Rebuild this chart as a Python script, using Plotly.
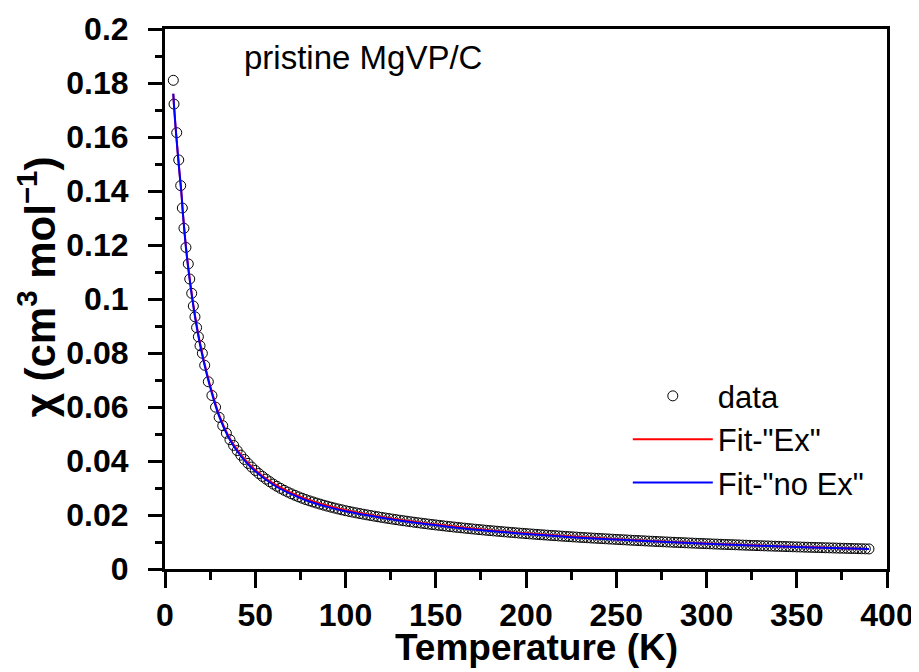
import plotly.graph_objects as go

# ---- data ----
temp_data = [4.6, 5.0, 6.5, 7.6, 8.7, 9.6, 10.5, 11.6, 12.9, 13.7, 14.8, 15.7, 16.6, 17.5, 18.5, 19.4, 20.7,
             22, 24, 26, 28, 30, 32, 34, 36, 38, 40, 42, 44, 46, 48, 50, 52, 54, 56, 58, 60,
             62, 64, 66, 68, 70, 72, 74, 76, 78, 80, 82, 84, 86, 88, 90, 92, 94, 96, 98, 100,
             102, 104, 106, 108, 110, 112, 114, 116, 118, 120, 122, 124, 126, 128, 130, 132, 134, 136, 138, 140,
             142, 144, 146, 148, 150, 152, 154, 156, 158, 160, 162, 164, 166, 168, 170, 172, 174, 176, 178, 180,
             182, 184, 186, 188, 190, 192, 194, 196, 198, 200, 202, 204, 206, 208, 210, 212, 214, 216, 218, 220,
             222, 224, 226, 228, 230, 232, 234, 236, 238, 240, 242, 244, 246, 248, 250, 252, 254, 256, 258, 260,
             262, 264, 266, 268, 270, 272, 274, 276, 278, 280, 282, 284, 286, 288, 290, 292, 294, 296, 298, 300,
             302, 304, 306, 308, 310, 312, 314, 316, 318, 320, 322, 324, 326, 328, 330, 332, 334, 336, 338, 340,
             342, 344, 346, 348, 350, 352, 354, 356, 358, 360, 362, 364, 366, 368, 370, 372, 374, 376, 378, 380,
             382, 384, 386, 388, 390]
chi_data = [0.1810, 0.1722, 0.1616, 0.1515, 0.1420, 0.1337, 0.1262, 0.1191, 0.1130, 0.1074, 0.1021, 0.0974,
            0.0934, 0.0894, 0.0860, 0.0827, 0.0799,
            0.07544, 0.06936, 0.06427, 0.05995, 0.05618, 0.05308, 0.05030, 0.04789, 0.04579, 0.04386,
            0.04216, 0.04058, 0.03912, 0.03776, 0.03650, 0.03536, 0.03429, 0.03329, 0.03234, 0.03145,
            0.03064, 0.02987, 0.02915, 0.02849, 0.02786, 0.02728, 0.02672, 0.02621, 0.02572, 0.02525,
            0.02483, 0.02441, 0.02402, 0.02363, 0.02326, 0.02290, 0.02256, 0.02223, 0.02191, 0.02160,
            0.02132, 0.02105, 0.02079, 0.02053, 0.02028, 0.02004, 0.01980, 0.01957, 0.01934, 0.01912,
            0.01890, 0.01869, 0.01848, 0.01828, 0.01808, 0.01789, 0.01770, 0.01751, 0.01733, 0.01715,
            0.01698, 0.01681, 0.01664, 0.01647, 0.01631, 0.01616, 0.01600, 0.01585, 0.01570, 0.01555,
            0.01541, 0.01527, 0.01513, 0.01500, 0.01486, 0.01473, 0.01460, 0.01448, 0.01435, 0.01423,
            0.01411, 0.01399, 0.01388, 0.01376, 0.01365, 0.01354, 0.01343, 0.01332, 0.01322, 0.01311,
            0.01301, 0.01291, 0.01281, 0.01272, 0.01262, 0.01253, 0.01243, 0.01234, 0.01225, 0.01216,
            0.01207, 0.01199, 0.01190, 0.01182, 0.01173, 0.01165, 0.01157, 0.01149, 0.01141, 0.01134,
            0.01126, 0.01119, 0.01111, 0.01104, 0.01096, 0.01089, 0.01082, 0.01075, 0.01067, 0.01060,
            0.01054, 0.01047, 0.01040, 0.01033, 0.01027, 0.01020, 0.01014, 0.01007, 0.01001, 0.00995,
            0.00989, 0.00983, 0.00977, 0.00971, 0.00965, 0.00960, 0.00954, 0.00948, 0.00943, 0.00937,
            0.00932, 0.00926, 0.00921, 0.00916, 0.00911, 0.00906, 0.00901, 0.00896, 0.00891, 0.00886,
            0.00881, 0.00876, 0.00871, 0.00867, 0.00862, 0.00857, 0.00853, 0.00848, 0.00844, 0.00840,
            0.00835, 0.00831, 0.00827, 0.00822, 0.00818, 0.00814, 0.00810, 0.00806, 0.00802, 0.00798,
            0.00794, 0.00790, 0.00786, 0.00783, 0.00779, 0.00775, 0.00771, 0.00768, 0.00764, 0.00760,
            0.00757, 0.00753, 0.00750, 0.00746, 0.00743]

temp_fit = [4.6, 5, 6, 7, 8, 9, 10, 12, 14, 16, 18, 20, 23, 26, 30, 35, 40, 45, 50, 60, 70, 80, 90, 100,
            120, 140, 160, 180, 200, 225, 250, 275, 300, 325, 350, 375, 390]
chi_fit_ex = [0.1760, 0.1715, 0.1625, 0.1545, 0.1470, 0.1400, 0.1312, 0.1168, 0.1060, 0.0966, 0.0886,
              0.0818, 0.0731, 0.0656, 0.0571, 0.0495, 0.0441, 0.0400, 0.0367, 0.0317, 0.0282, 0.0255,
              0.0234, 0.0218, 0.0193, 0.0173, 0.0157, 0.0143, 0.0132, 0.0120, 0.0110, 0.0102, 0.00945,
              0.00878, 0.00820, 0.00768, 0.00742]
chi_fit_noex = [0.1760, 0.1715, 0.1625, 0.1545, 0.1470, 0.1400, 0.1310, 0.1165, 0.1055, 0.0960, 0.0880,
                0.0812, 0.0725, 0.0650, 0.0565, 0.0490, 0.0436, 0.0395, 0.0362, 0.0312, 0.0277, 0.0250,
                0.0230, 0.0214, 0.0190, 0.0170, 0.0154, 0.0141, 0.0130, 0.0118, 0.0109, 0.0101, 0.00935,
                0.00870, 0.00815, 0.00765, 0.00740]

x_ticks = [0, 50, 100, 150, 200, 250, 300, 350, 400]
y_ticks = [0, 0.02, 0.04, 0.06, 0.08, 0.1, 0.12, 0.14, 0.16, 0.18, 0.2]
y_ticktext = ["0", "0.02", "0.04", "0.06", "0.08", "0.1", "0.12", "0.14", "0.16", "0.18", "0.2"]

FONT = "Liberation Sans, Arial, sans-serif"

fig = go.Figure()
fig.add_trace(go.Scatter(
    x=temp_data, y=chi_data, mode="markers", name="data",
    marker=dict(symbol="circle-open", size=10, color="black", line=dict(width=1, color="black")),
))
fig.add_trace(go.Scatter(
    x=temp_fit, y=chi_fit_ex, mode="lines", name='Fit-"Ex"',
    line=dict(color="#ff0000", width=2, shape="spline"),
))
fig.add_trace(go.Scatter(
    x=temp_fit, y=chi_fit_noex, mode="lines", name='Fit-"no Ex"',
    line=dict(color="#0000ff", width=2, shape="spline"),
))

axis_common = dict(
    showline=True, linewidth=3, linecolor="black", mirror=True,
    ticks="outside", tickwidth=3, tickcolor="black",
    showgrid=False, zeroline=False, automargin=False,
    tickfont=dict(family=FONT, size=32, color="black", weight="bold"),
)

fig.update_xaxes(
    range=[0, 400], tickvals=x_ticks, ticklen=16, ticklabelstandoff=0,
    minor=dict(ticks="outside", dtick=25, tick0=0, ticklen=8, tickwidth=3, tickcolor="black"),
    **axis_common,
)
fig.update_yaxes(
    range=[0, 0.2], tickvals=y_ticks, ticktext=y_ticktext, ticklen=14, ticklabelstandoff=13,
    minor=dict(ticks="outside", dtick=0.01, tick0=0, ticklen=7, tickwidth=3, tickcolor="black"),
    **axis_common,
)

# axis titles
fig.add_annotation(
    x=0.515, y=-0.146, xref="paper", yref="paper", xanchor="center", yanchor="middle",
    text="Temperature (K)", showarrow=False,
    font=dict(family=FONT, size=37, color="black", weight="bold"),
)
fig.add_annotation(
    x=-0.177, y=0.522, xref="paper", yref="paper", xanchor="center", yanchor="middle",
    text="χ (cm<sup>3</sup> mol<sup>−1</sup>)", showarrow=False, textangle=-90,
    font=dict(family=FONT, size=42, color="black", weight="bold"),
)

fig.add_annotation(
    x=0.107, y=0.948, xref="paper", yref="paper", xanchor="left", yanchor="middle",
    text="pristine MgVP/C", showarrow=False,
    font=dict(family=FONT, size=33, color="black"),
)

# the page adds an 8px body margin, so the figure is sized to fit the 919x672 window
fig.update_layout(
    width=911, height=664,
    margin=dict(l=157, r=32, t=21, b=103),
    paper_bgcolor="white", plot_bgcolor="white",
    showlegend=True,
    legend=dict(x=0.641, y=0.37, xanchor="left", yanchor="top",
                bgcolor="rgba(0,0,0,0)", borderwidth=0,
                font=dict(family=FONT, size=31, color="black"),
                itemwidth=80, tracegroupgap=0),
)

fig.write_html("out.html")
